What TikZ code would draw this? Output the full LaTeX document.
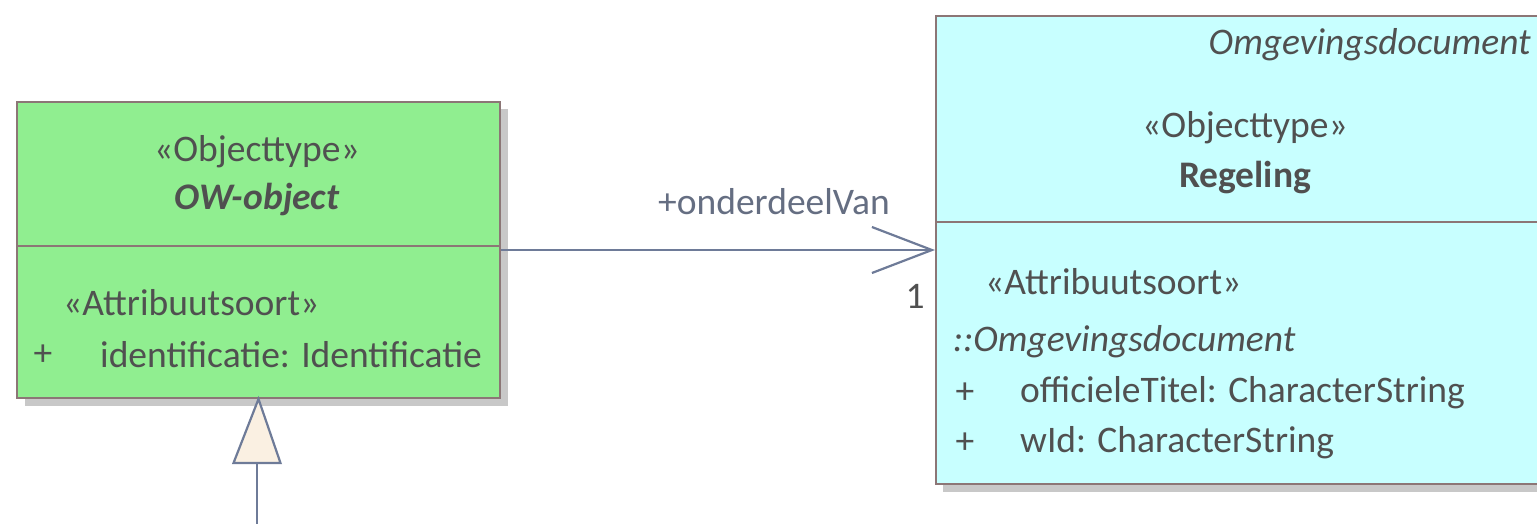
\documentclass[tikz,border=0pt]{standalone}
\usepackage{fontspec}
\setmainfont{Carlito}
\usetikzlibrary{arrows.meta,shapes.geometric}
\definecolor{owgreen}{HTML}{90EE90}
\definecolor{regcyan}{HTML}{C8FFFF}
\definecolor{boxline}{HTML}{8C7676}
\definecolor{txt}{HTML}{505050}
\definecolor{conn}{HTML}{6E7B98}
\definecolor{shadowc}{HTML}{C8C8C8}
\definecolor{tri}{HTML}{FAF0E2}
\tikzset{
  classbox/.style={draw=boxline, line width=2pt, rectangle, inner sep=0pt},
  lbl/.style={text=txt, inner sep=0pt, font=\fontsize{37.5}{44}\selectfont},
  connector/.style={draw=conn, line width=2.2pt},
}
\begin{document}
\begin{tikzpicture}[x=1pt,y=-1pt]
\useasboundingbox (0,0) rectangle (1537,523);
\clip (0,0) rectangle (1537,523);
% shadows
\fill[shadowc] (25,109) rectangle (508,406);
\fill[shadowc] (943,24) rectangle (1560,492);
% left box
\node[classbox, fill=owgreen, minimum width=483pt, minimum height=296pt, anchor=north west] (ow) at (16,101) {};
\draw[classbox] (16,246) -- (499,246);
\node[lbl] (owst) at (257,152) {«Objecttype»};
\node[lbl, font=\fontsize{37.5}{44}\selectfont\bfseries\itshape] (owname) at (257,200) {OW-object};
\node[lbl, anchor=west] (owattst) at (63,303) {«Attribuutsoort»};
\node[lbl] (owplus) at (43,355) {+};
\node[lbl, anchor=west] (owattr) at (100,355) {identificatie: Identificatie};
% right box
\node[classbox, fill=regcyan, minimum width=626pt, minimum height=468pt, anchor=north west] (reg) at (935,15) {};
\draw[classbox] (935,222) -- (1561,222);
\node[lbl, anchor=east, font=\fontsize{37.5}{44}\selectfont\itshape] (regpkg) at (1531,45) {Omgevingsdocument};
\node[lbl] (regst) at (1245,128) {«Objecttype»};
\node[lbl, font=\fontsize{37.5}{44}\selectfont\bfseries] (regname) at (1245,178) {Regeling};
\node[lbl, anchor=west] (regattst) at (985,282) {«Attribuutsoort»};
\node[lbl, anchor=west, font=\fontsize{37.5}{44}\selectfont\itshape] (reginh) at (953,342) {::Omgevingsdocument};
\node[lbl] (regp1) at (965,393) {+};
\node[lbl, anchor=west] (rega1) at (1020,393) {officieleTitel: CharacterString};
\node[lbl] (regp2) at (965,443) {+};
\node[lbl, anchor=west] (rega2) at (1020,443) {wId: CharacterString};
% association
\coordinate (assocstart) at (ow.east |- 0,250);
\coordinate (assocend) at (reg.west |- 0,250);
\draw[connector, -{Straight Barb[length=60pt, width=46pt, line width=2.2pt]}] (assocstart) -- (assocend);
\node[lbl, text=conn!70!txt] (role) at (774,202) {+onderdeelVan};
\node[lbl] (mult) at (915,296) {1};
% generalization
\coordinate (genfoot) at (257,530);
\draw[connector, fill=tri] (ow.south) -- (233.5,463) -- (280.5,463) -- cycle;
\coordinate (trbase) at (257,463);
\draw[connector] (genfoot) -- (trbase);
\end{tikzpicture}
\end{document}
